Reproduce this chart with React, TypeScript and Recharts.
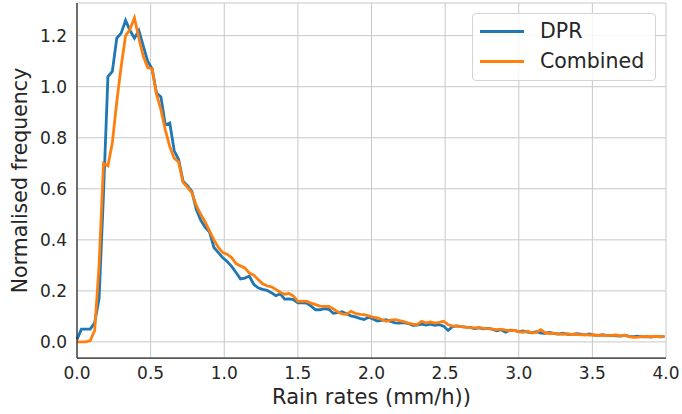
import React from 'react';
import { LineChart, Line, XAxis, YAxis, CartesianGrid, Legend } from 'recharts';

const INK = '#262626';
const GRID = '#c8c8c8';
const FONT = '"DejaVu Sans", sans-serif';

// histogram bin width (mm/h)
const BIN_WIDTH = 0.03;

const DPR = [
  0.01, 0.05, 0.05, 0.05, 0.075, 0.17, 0.58, 1.04, 1.06, 1.19,
  1.21, 1.26, 1.22, 1.19, 1.22, 1.16, 1.10, 1.07, 0.975, 0.96,
  0.85, 0.858, 0.75, 0.715, 0.63, 0.612, 0.59, 0.52, 0.477, 0.45,
  0.43, 0.37, 0.35, 0.33, 0.315, 0.296, 0.272, 0.247, 0.25, 0.258,
  0.226, 0.212, 0.206, 0.202, 0.193, 0.181, 0.188, 0.168, 0.169, 0.166,
  0.153, 0.153, 0.152, 0.14, 0.126, 0.126, 0.13, 0.128, 0.112, 0.115,
  0.118, 0.11, 0.102, 0.098, 0.092, 0.088, 0.097, 0.09, 0.082, 0.084,
  0.087, 0.08, 0.075, 0.074, 0.076, 0.072, 0.065, 0.066, 0.07, 0.066,
  0.07, 0.065, 0.068, 0.062, 0.045, 0.06, 0.063, 0.06, 0.058, 0.057,
  0.052, 0.055, 0.051, 0.053, 0.05, 0.044, 0.048, 0.038, 0.046, 0.045,
  0.04, 0.043, 0.038, 0.036, 0.04, 0.035, 0.034, 0.037, 0.033, 0.031,
  0.034, 0.03, 0.029, 0.032, 0.03, 0.028, 0.031, 0.027, 0.026, 0.028,
  0.025, 0.026, 0.024, 0.023, 0.026, 0.022, 0.021, 0.023, 0.02, 0.021,
  0.019, 0.022, 0.02, 0.021,
];

const COMBINED = [
  0.0, 0.0, 0.0, 0.005, 0.045, 0.30, 0.70, 0.69, 0.78, 0.94,
  1.08, 1.20, 1.225, 1.27, 1.19, 1.12, 1.075, 1.07, 0.97, 0.91,
  0.83, 0.765, 0.72, 0.705, 0.625, 0.606, 0.585, 0.535, 0.50, 0.47,
  0.435, 0.40, 0.37, 0.35, 0.344, 0.33, 0.307, 0.298, 0.29, 0.27,
  0.262, 0.245, 0.228, 0.22, 0.216, 0.206, 0.195, 0.187, 0.19, 0.18,
  0.159, 0.16, 0.159, 0.152, 0.146, 0.14, 0.139, 0.139, 0.13, 0.118,
  0.11, 0.108, 0.12, 0.112, 0.108, 0.107, 0.102, 0.097, 0.094, 0.088,
  0.081, 0.085, 0.087, 0.083, 0.08, 0.074, 0.07, 0.068, 0.081, 0.075,
  0.078, 0.074, 0.077, 0.081, 0.068, 0.062, 0.062, 0.06, 0.058, 0.056,
  0.055, 0.057, 0.053, 0.052, 0.05, 0.048, 0.05, 0.046, 0.044, 0.045,
  0.04, 0.038, 0.042, 0.036, 0.037, 0.048, 0.035, 0.033, 0.034, 0.031,
  0.03, 0.032, 0.029, 0.03, 0.028, 0.029, 0.027, 0.028, 0.026, 0.027,
  0.025, 0.026, 0.027, 0.024, 0.026, 0.021, 0.018, 0.019, 0.021, 0.022,
  0.021, 0.022, 0.021, 0.022,
];

const RAIN_RATE = DPR.map((_, i) => +(i * BIN_WIDTH).toFixed(2));

const X_TICKS = [0, 0.5, 1.0, 1.5, 2.0, 2.5, 3.0, 3.5, 4.0];
const Y_TICKS = [0, 0.2, 0.4, 0.6, 0.8, 1.0, 1.2];

const SERIES = [
  { key: 'dpr', name: 'DPR', color: '#1f77b4' },
  { key: 'combined', name: 'Combined', color: '#ff7f0e' },
];

const data = RAIN_RATE.map((rate, i) => ({ rate, dpr: DPR[i], combined: COMBINED[i] }));

const fmt = (v: number) => v.toFixed(1);

const LegendBox = () => (
  <div
    style={{
      boxSizing: 'border-box',
      width: 184,
      height: 68,
      border: '1px solid #d4d4d4',
      borderRadius: 4,
      background: 'rgba(255,255,255,0.8)',
      position: 'relative',
      fontFamily: FONT,
      fontSize: 20.5,
      color: INK,
    }}
  >
    {SERIES.map((s, i) => (
      <div key={s.key} style={{ position: 'absolute', left: 0, top: 17 + i * 30, width: '100%' }}>
        <span style={{ position: 'absolute', left: 7, top: -1.5, width: 44, height: 3, background: s.color }} />
        <span style={{ position: 'absolute', left: 67, top: -12, lineHeight: '24px' }}>{s.name}</span>
      </div>
    ))}
  </div>
);

const XLabel = ({ viewBox }: any) => (
  <text x={viewBox.x + viewBox.width / 2} y={viewBox.y + viewBox.height - 10} textAnchor="middle" fontSize={21} fill={INK} fontFamily={FONT}>
    Rain rates (mm/h))
  </text>
);

const YLabel = ({ viewBox }: any) => {
  const x = 27;
  const y = viewBox.y + viewBox.height / 2;
  return (
    <text x={x} y={y} transform={`rotate(-90, ${x}, ${y})`} textAnchor="middle" fontSize={20.5} fill={INK} fontFamily={FONT}>
      Normalised frequency
    </text>
  );
};

export default function App() {
  return (
    <div style={{ position: 'absolute', left: 0, top: 0, width: 682, height: 414, background: '#fff', fontFamily: FONT }}>
      <LineChart width={682} height={414} data={data} margin={{ top: 3, right: 16, bottom: 0, left: 0 }}>
        <CartesianGrid stroke={GRID} strokeWidth={1} />
        <XAxis
          dataKey="rate"
          type="number"
          domain={[0, 4]}
          ticks={X_TICKS}
          interval={0}
          tickFormatter={fmt}
          height={56}
          tickLine={false}
          tickSize={0}
          tickMargin={9}
          axisLine={{ stroke: INK, strokeWidth: 1.25 }}
          tick={{ fill: INK, fontSize: 17, fontFamily: FONT }}
          label={XLabel}
        />
        <YAxis
          type="number"
          domain={[-0.063, 1.328]}
          allowDataOverflow
          ticks={Y_TICKS}
          interval={0}
          tickFormatter={fmt}
          width={77}
          tickLine={false}
          tickSize={0}
          tickMargin={10}
          axisLine={{ stroke: INK, strokeWidth: 1.25 }}
          tick={{ fill: INK, fontSize: 17, fontFamily: FONT }}
          label={YLabel}
        />
        {SERIES.map((s) => (
          <Line
            key={s.key}
            type="linear"
            dataKey={s.key}
            name={s.name}
            stroke={s.color}
            strokeWidth={2.8}
            dot={false}
            isAnimationActive={false}
          />
        ))}
        <Legend
          layout="horizontal"
          verticalAlign="middle"
          align="center"
          wrapperStyle={{ top: 13, left: 472, width: 184, height: 68 }}
          content={() => <LegendBox />}
        />
      </LineChart>
    </div>
  );
}
